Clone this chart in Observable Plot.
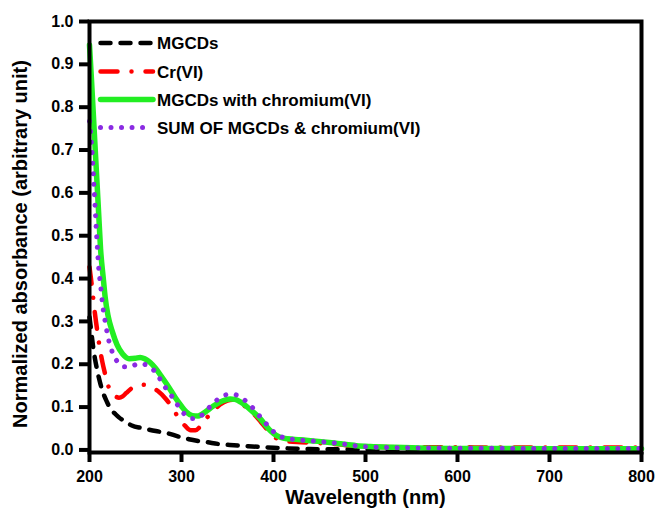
<!DOCTYPE html>
<html><head><meta charset="utf-8">
<script src="https://cdn.jsdelivr.net/npm/d3@7"></script>
<script src="https://cdn.jsdelivr.net/npm/@observablehq/plot@0.6"></script>
<style>
body{margin:0;background:#fff;font-family:"Liberation Sans",Arial,sans-serif;}
#wrap{position:relative;width:656px;height:521px;}
#legend{position:absolute;left:0;top:0;}
</style></head><body><div id="wrap"></div>
<script>
// Series names
const seriesNames = ["MGCDs", "Cr(VI)", "MGCDs with chromium(VI)", "SUM OF MGCDs & chromium(VI)"];

// MGCDs (black dashed)
const mgcdsX = [200,202,204,206,208,210,212,215,219,223,228,232,239,246,257,272,283,297,308,318,328,340,357,370,384,400,411,440,480,520,600,700,800];
const mgcdsY = [0.31,0.275,0.24,0.212,0.19,0.17,0.153,0.132,0.112,0.095,0.084,0.076,0.066,0.057,0.051,0.044,0.040,0.031,0.025,0.021,0.018,0.014,0.011,0.009,0.007,0.005,0.004,0.002,0.0015,0.001,0.001,0.001,0.001];

// Cr(VI) (red dash-dot)
const crX = [200,201,203,205,207,209,211,214,217,220,223,227,232,236,240,246,252,258,265,274,283,290,297,304,310,315,320,324,333,342,350,356,362,370,378,386,393,399,404,415,430,450,470,490,510,550,600,700,800];
const crY = [0.427,0.41,0.375,0.335,0.30,0.27,0.24,0.205,0.177,0.152,0.137,0.127,0.122,0.125,0.133,0.144,0.150,0.152,0.149,0.138,0.119,0.099,0.074,0.056,0.046,0.046,0.054,0.066,0.087,0.106,0.115,0.117,0.113,0.100,0.085,0.066,0.048,0.034,0.026,0.020,0.018,0.016,0.013,0.009,0.007,0.006,0.006,0.0055,0.0055];

// MGCDs with chromium(VI) (green solid)
const mixX = [200,202,205,208,210,212,215,217,220,225,230,236,243,250,255,260,266,272,279,286,293,300,305,312,318,322,328,335,342,348,353,358,364,370,377,386,392,397,403,408,415,429,449,470,490,505,530,567,600,700,800];
const mixY = [0.945,0.87,0.75,0.63,0.55,0.47,0.40,0.357,0.315,0.275,0.245,0.224,0.213,0.214,0.216,0.213,0.204,0.19,0.169,0.147,0.123,0.102,0.089,0.080,0.079,0.083,0.092,0.103,0.112,0.117,0.119,0.118,0.112,0.103,0.09,0.072,0.056,0.044,0.034,0.029,0.026,0.024,0.020,0.015,0.010,0.008,0.006,0.004,0.0035,0.003,0.003];

// SUM OF MGCDs & chromium(VI) (purple dotted)
const sumX = [200,203,205,208,210,212,214,217,221,226,232,238,245,253,259,264,272,281,288,295,304,313,318,324,331,340,349,355,360,371,380,386,395,403,412,424,435,447,458,471,482,495,505,530,567,600,700,800];
const sumY = [0.767,0.69,0.61,0.49,0.425,0.385,0.343,0.30,0.255,0.222,0.202,0.194,0.195,0.201,0.200,0.196,0.181,0.150,0.130,0.107,0.082,0.073,0.074,0.085,0.101,0.119,0.129,0.130,0.128,0.112,0.092,0.076,0.054,0.037,0.028,0.024,0.022,0.020,0.018,0.015,0.012,0.008,0.007,0.0055,0.0045,0.004,0.0035,0.0035];

const xTicks = [200,300,400,500,600,700,800];
const yTicks = [0,0.1,0.2,0.3,0.4,0.5,0.6,0.7,0.8,0.9,1.0];

const toRows = (xs, ys) => xs.map((w, i) => ({w, a: ys[i]}));
const styles = [
  {stroke:"#000000", strokeWidth:4.5, strokeDasharray:"10,10", strokeLinecap:"round"},
  {stroke:"#ff0000", strokeWidth:4.5, strokeDasharray:"17,14,0.01,14", strokeLinecap:"round"},
  {stroke:"#22ee22", strokeWidth:5.5, strokeDasharray:null, strokeLinecap:"round"},
  {stroke:"#8a2be2", strokeWidth:5, strokeDasharray:"0.01,10.5", strokeLinecap:"round"}
];
const datasets = [toRows(mgcdsX, mgcdsY), toRows(crX, crY), toRows(mixX, mixY), toRows(sumX, sumY)];

const W = 656, H = 521, mL = 89, mR = 15, mT = 21, mB = 69;
const font = "Liberation Sans, Arial, sans-serif";
const chart = Plot.plot({
  width: W, height: H,
  marginLeft: mL, marginRight: mR, marginTop: mT, marginBottom: mB,
  style: {fontFamily: font, fontSize: "16px", fontWeight: "bold", color: "#000", background: "#fff"},
  x: {domain: [200, 800], label: null},
  y: {domain: [-0.006, 1.0], label: null},
  marks: [
    ...datasets.map((d, i) => Plot.line(d, {x: "w", y: "a", curve: "monotone-x",
      stroke: styles[i].stroke, strokeWidth: styles[i].strokeWidth,
      strokeDasharray: styles[i].strokeDasharray, strokeLinecap: styles[i].strokeLinecap})),
    Plot.frame({stroke: "#000", strokeWidth: 4}),
    Plot.axisX({ticks: xTicks, tickSize: 10, tickPadding: 8, stroke: "#000", strokeWidth: 4, label: null}),
    Plot.axisY({ticks: yTicks, tickFormat: d3.format(".1f"), tickSize: 10, tickPadding: 6, stroke: "#000", strokeWidth: 4, label: null}),
    Plot.text(["Wavelength (nm)"], {frameAnchor: "bottom", dy: 51, fontSize: 20, fontWeight: "bold", fill: "#000", textAnchor: "middle"}),
    Plot.text(["Normalized absorbance (arbitrary unit)"], {frameAnchor: "left", rotate: -90, dx: -69, dy: 7, fontSize: 20, fontWeight: "bold", fill: "#000", textAnchor: "middle"})
  ]
});
document.getElementById("wrap").appendChild(chart);

// Legend overlay
const ov = d3.select("#wrap").append("svg").attr("id", "legend").attr("width", W).attr("height", H);
const rowY = [43, 71.5, 99.5, 127.5];
seriesNames.forEach((name, i) => {
  const s = styles[i];
  const ln = ov.append("line").attr("x1", 100.5).attr("x2", 153).attr("y1", rowY[i]).attr("y2", rowY[i])
    .attr("stroke", s.stroke).attr("stroke-width", s.strokeWidth).attr("stroke-linecap", s.strokeLinecap);
  if (s.strokeDasharray) ln.attr("stroke-dasharray", s.strokeDasharray);
  ov.append("text").attr("x", 157).attr("y", rowY[i]).attr("dy", "0.36em")
    .attr("font-family", font).attr("font-weight", "bold").attr("font-size", 17).attr("fill", "#000").text(name);
});
</script></body></html>
